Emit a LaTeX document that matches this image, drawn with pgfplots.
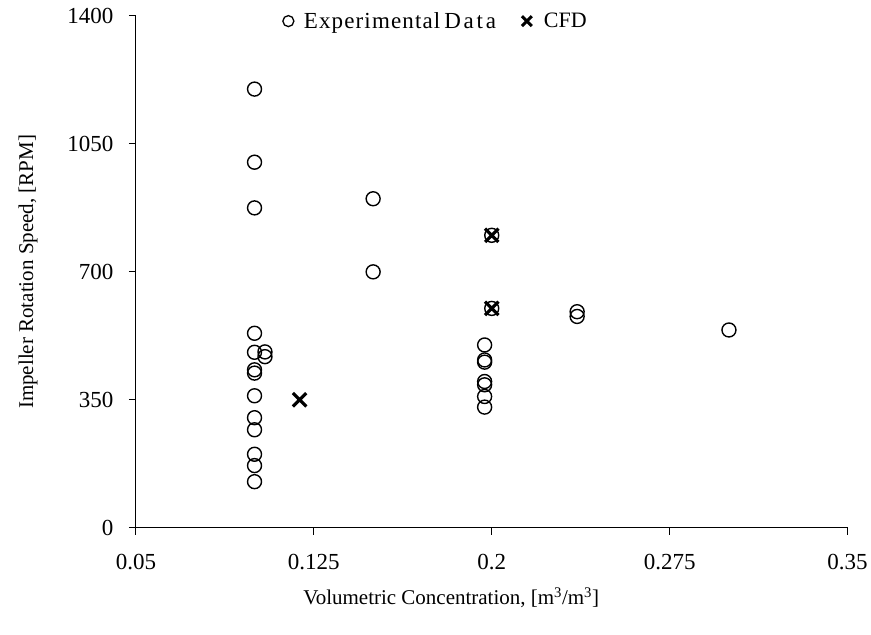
\documentclass[border=0pt]{standalone}
\usepackage{pgfplots}
\pgfplotsset{compat=1.18}
\usepackage{fontspec}
\setmainfont{Liberation Serif}
\begin{document}
\begin{tikzpicture}
\begin{axis}[
  name=ax,
  scale only axis,
  width=712pt, height=512pt,
  xmin=0.05, xmax=0.35, ymin=0, ymax=1400,
  axis lines=left,
  axis line style={-, line width=1pt},
  xtick={0.05,0.125,0.2,0.275,0.35},
  xticklabels={0.05,0.125,0.2,0.275,0.35},
  ytick={0,350,700,1050,1400},
  tick align=outside,
  major tick length=7pt,
  tick style={line width=1pt, black},
  /pgf/number format/assume math mode=true,
  /pgf/number format/1000 sep={},
  tick label style={font=\fontsize{23}{27}\selectfont},
  yticklabel style={xshift=-12pt},
  xticklabel style={yshift=-16pt},
  xlabel={Volumetric Concentration, [m\textsuperscript{3}/m\textsuperscript{3}]},
  ylabel={Impeller Rotation Speed, [RPM]},
  label style={font=\fontsize{21}{25}\selectfont},
  xlabel style={at={(axis description cs:0.443,-0.1367)}, anchor=center},
  ylabel style={at={(axis description cs:-0.1517,0.5)}, anchor=center, rotate=0},
  legend style={draw=none, fill=none, at={(0.202,0.99)}, anchor=west,
    legend columns=2, font=\fontsize{23}{27}\selectfont,
    /tikz/every even column/.append style={column sep=24pt}},
  legend cell align=left,
  clip=false,
]
\addlegendimage{only marks, mark=o, mark size=5.5pt, line width=1.3pt, black}
\addlegendentry{\hspace{8pt}{\addfontfeature{LetterSpace=5}Experimental}\hspace{4pt}{\addfontfeature{LetterSpace=12}Data}}
\addlegendimage{only marks, mark=x, mark size=7pt, line width=3pt, black}
\addlegendentry{\hspace{10pt}{\fontsize{22}{26}\selectfont CFD}}
\addplot[forget plot, only marks, mark=o, mark size=7pt, line width=1.4pt, black] table {
x y
0.1 1200
0.1 1000
0.1 875
0.1 532
0.1 480
0.1044 481
0.1044 468
0.1 432
0.1 423
0.1 361
0.1 301
0.1 268
0.1 201
0.1 170
0.1 126
0.15 900
0.15 700
0.197 500
0.197 459
0.197 453
0.197 400
0.197 391
0.197 359
0.197 330
0.2 800
0.2 600
0.236 591
0.236 578
0.3 541
};
\addplot[forget plot, only marks, mark=x, mark size=9.5pt, line width=3.2pt, black] table {
x y
0.119 350
0.2 800
0.2 600
};
\end{axis}
\path[use as bounding box] (ax.south west) ++(-136pt,-107pt) rectangle ++(871pt,635pt);
\end{tikzpicture}
\end{document}
